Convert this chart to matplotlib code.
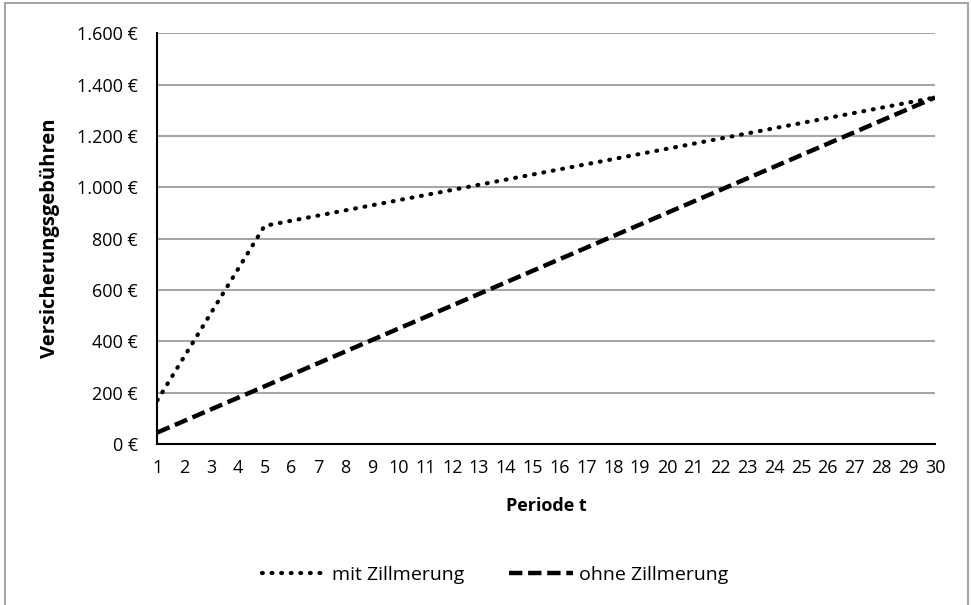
import matplotlib.pyplot as plt
from matplotlib.patches import Rectangle

plt.rcParams['font.family'] = ['Open Sans', 'DejaVu Sans']

# Data
perioden = list(range(1, 31))
mit_zillmerung = [170, 340, 510, 680, 850, 870, 890, 910, 930, 950,
                  970, 990, 1010, 1030, 1050, 1070, 1090, 1110, 1130, 1150,
                  1170, 1190, 1210, 1230, 1250, 1270, 1290, 1310, 1330, 1350]
ohne_zillmerung = [45, 90, 135, 180, 225, 270, 315, 360, 405, 450,
                   495, 540, 585, 630, 675, 720, 765, 810, 855, 900,
                   945, 990, 1035, 1080, 1125, 1170, 1215, 1260, 1305, 1350]
y_ticks = [0, 200, 400, 600, 800, 1000, 1200, 1400, 1600]
y_ticklabels = ['0 €', '200 €', '400 €', '600 €', '800 €',
                '1.000 €', '1.200 €', '1.400 €', '1.600 €']

fig = plt.figure(figsize=(9.71, 6.05), dpi=100)
ax = fig.add_axes([0.162, 0.266, 0.801, 0.679])

# outer frame
fig.patches.append(Rectangle((0.005, -0.01), 0.992, 1.005, transform=fig.transFigure,
                             fill=False, edgecolor='#a6a6a6', linewidth=1.5))

ax.plot(perioden, mit_zillmerung, color='black', linewidth=3,
        linestyle=(0, (0.2, 2.1)), dash_capstyle='round', label='mit Zillmerung')
ax.plot(perioden, ohne_zillmerung, color='black', linewidth=3.2,
        linestyle=(0, (3, 1.3)), label='ohne Zillmerung')

ax.set_xlim(1, 30)
ax.set_ylim(0, 1600)
ax.set_xticks(perioden)
ax.set_yticks(y_ticks)
ax.set_yticklabels(y_ticklabels)
ax.tick_params(length=0, labelsize=13)
ax.tick_params(axis='y', pad=14)
ax.tick_params(axis='x', pad=11)
ax.grid(axis='y', color='#a6a6a6', linewidth=1.5)
ax.set_axisbelow(True)
for s in ['top', 'right']:
    ax.spines[s].set_visible(False)
ax.spines['left'].set_linewidth(1.5)
ax.spines['bottom'].set_linewidth(1.5)

ax.set_xlabel('Periode t', fontsize=13, fontweight='bold', labelpad=14)
ax.set_ylabel('Versicherungsgebühren', fontsize=14.5, fontweight='bold', labelpad=12)

fig.legend(loc='center', bbox_to_anchor=(0.51, 0.05), ncol=2, frameon=False,
           fontsize=14, handlelength=3.3, columnspacing=2.3, handletextpad=0.3)

fig.savefig('out.png', dpi=100)
